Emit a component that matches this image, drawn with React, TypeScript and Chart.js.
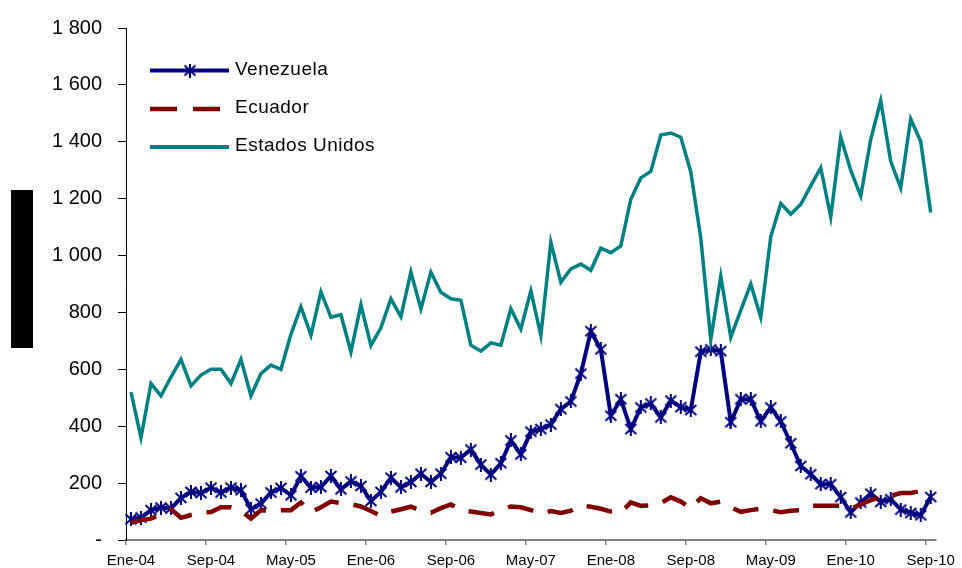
import React, { useEffect, useRef } from "react";
import { Chart, registerables } from "chart.js";

Chart.register(...registerables);

const monthNames = ["Ene", "Feb", "Mar", "Abr", "May", "Jun", "Jul", "Ago", "Sep", "Oct", "Nov", "Dic"];
const years = ["04", "05", "06", "07", "08", "09", "10"];
const lastMonthCount = 81;
const categories: string[] = [];
for (const y of years) for (const m of monthNames) categories.push(`${m}-${y}`);
categories.length = lastMonthCount;

const venezuela = [
  73, 79, 105, 114, 111, 148, 169, 165, 184, 167, 184, 175, 108, 128, 167, 183, 157, 224, 184, 186,
  225, 178, 206, 190, 137, 169, 219, 185, 204, 233, 204, 233, 291, 289, 318, 265, 230, 270, 350, 301,
  381, 390, 406, 460, 487, 585, 734, 670, 437, 495, 390, 466, 480, 431, 490, 467, 457, 662, 670, 664,
  414, 495, 495, 417, 466, 417, 340, 260, 231, 196, 196, 151, 97, 132, 163, 134, 143, 107, 95, 87, 151,
];

const ecuador = [
  60, 70, 75, 90, 108, 78, 88, 97, 98, 115, 115, 103, 75, 105, 102, 105, 105, 132, 98, 115,
  135, 130, 126, 118, 102, 85, 100, 108, 117, 103, 96, 112, 125, 105, 100, 95, 90, 105, 118, 115,
  105, 93, 102, 95, 103, 122, 117, 110, 100, 97, 132, 120, 122, 130, 150, 135, 112, 147, 129, 135,
  115, 99, 105, 110, 105, 98, 103, 105, 120, 120, 120, 120, 110, 125, 140, 151, 155, 165, 165, 172, 182,
];

const estadosUnidos = [
  520, 360, 550, 507, 573, 635, 542, 580, 600, 600, 550, 635, 507, 585, 615, 600, 723, 820, 720, 872,
  783, 792, 661, 827, 684, 746, 848, 785, 942, 812, 942, 871, 848, 843, 685, 664, 693, 685, 813, 742,
  876, 719, 1047, 906, 953, 970, 948, 1026, 1010, 1034, 1198, 1273, 1296, 1424, 1431, 1416, 1294, 1061, 705, 927,
  713, 807, 900, 783, 1066, 1183, 1145, 1180, 1245, 1309, 1136, 1416, 1300, 1209, 1408, 1544, 1331, 1238, 1480, 1401, 1151,
];

const seriesNames = ["Venezuela", "Ecuador", "Estados Unidos"];
const yTicks = [0, 200, 400, 600, 800, 1000, 1200, 1400, 1600, 1800];
const labelEvery = 8;

const NAVY = "#000080";
const MAROON = "#800000";
const TEAL = "#008080";
const FONT = "'Liberation Sans', Arial, sans-serif";

function makeStar(size: number): HTMLCanvasElement {
  const c = document.createElement("canvas");
  c.width = size;
  c.height = size;
  const g = c.getContext("2d")!;
  g.strokeStyle = NAVY;
  g.lineWidth = 2;
  g.beginPath();
  g.moveTo(1.5, 2);
  g.lineTo(size - 1.5, size - 2);
  g.moveTo(size - 1.5, 2);
  g.lineTo(1.5, size - 2);
  g.moveTo(size / 2, 0);
  g.lineTo(size / 2, size);
  g.stroke();
  return c;
}

function fmt(v: number): string {
  if (v === 0) return "-";
  if (v >= 1000) return `${Math.floor(v / 1000)} ${String(v % 1000).padStart(3, "0")}`;
  return String(v);
}

export default function App() {
  const ref = useRef<HTMLCanvasElement | null>(null);

  useEffect(() => {
    if (!ref.current) return;
    const star = makeStar(14);

    const decor = {
      id: "decor",
      afterDraw(chart: any) {
        const ctx = chart.ctx as CanvasRenderingContext2D;
        ctx.save();
        // redacted axis title block
        ctx.fillStyle = "#000";
        ctx.fillRect(11, 190, 22, 158);
        // legend
        const x0 = 150, x1 = 229, tx = 235;
        const rows = [70.5, 109, 147];
        ctx.strokeStyle = NAVY;
        ctx.lineWidth = 4;
        ctx.setLineDash([]);
        ctx.beginPath();
        ctx.moveTo(x0, rows[0]);
        ctx.lineTo(x1, rows[0]);
        ctx.stroke();
        ctx.drawImage(star, 190 - 7, rows[0] - 7);
        ctx.strokeStyle = MAROON;
        ctx.lineWidth = 4.5;
        ctx.setLineDash([27, 16]);
        ctx.beginPath();
        ctx.moveTo(x0, rows[1]);
        ctx.lineTo(x1 + 4, rows[1]);
        ctx.stroke();
        ctx.setLineDash([]);
        ctx.strokeStyle = TEAL;
        ctx.lineWidth = 4;
        ctx.beginPath();
        ctx.moveTo(x0, rows[2]);
        ctx.lineTo(x1, rows[2]);
        ctx.stroke();
        ctx.fillStyle = "#000";
        ctx.font = `19px ${FONT}`;
        (ctx as any).letterSpacing = "0.5px";
        ctx.textBaseline = "middle";
        ctx.textAlign = "left";
        seriesNames.forEach((n, i) => ctx.fillText(n, tx, rows[i] - 1));
        ctx.restore();
      },
    };

    const chart = new Chart(ref.current, {
      type: "line",
      data: {
        labels: categories,
        datasets: [
          {
            label: seriesNames[0],
            data: venezuela,
            borderColor: NAVY,
            backgroundColor: NAVY,
            borderWidth: 4,
            pointStyle: star as any,
            pointRadius: 7,
            tension: 0,
            order: 3,
          },
          {
            label: seriesNames[1],
            data: ecuador,
            borderColor: MAROON,
            backgroundColor: MAROON,
            borderWidth: 4.5,
            borderDash: [26, 15],
            pointRadius: 0,
            tension: 0,
            order: 2,
          },
          {
            label: seriesNames[2],
            data: estadosUnidos,
            borderColor: TEAL,
            backgroundColor: TEAL,
            borderWidth: 3.5,
            pointRadius: 0,
            tension: 0,
            order: 1,
          },
        ],
      },
      options: {
        responsive: false,
        animation: false,
        devicePixelRatio: 1,
        layout: { padding: { top: 25, right: 19, left: 0, bottom: 0 } },
        plugins: {
          legend: { display: false },
          tooltip: { enabled: false },
        },
        scales: {
          x: {
            type: "category",
            offset: true,
            grid: {
              offset: true,
              drawOnChartArea: false,
              drawTicks: true,
              tickLength: 5,
              lineWidth: 1.5,
              color: (c: any) => (typeof c.index === "number" && c.index % labelEvery === 0 ? "#808080" : "rgba(0,0,0,0)"),
            },
            border: { display: true, color: "#808080", width: 2 },
            ticks: {
              autoSkip: false,
              maxRotation: 0,
              minRotation: 0,
              padding: 7,
              color: "#000",
              font: { family: FONT, size: 15 },
              callback: (_v: any, i: number) => (i % labelEvery === 0 ? categories[i] : ""),
            },
            afterFit: (s: any) => {
              s.height = 28;
            },
          },
          y: {
            min: yTicks[0],
            max: yTicks[yTicks.length - 1],
            afterBuildTicks: (s: any) => {
              s.ticks = yTicks.map((v) => ({ value: v }));
            },
            grid: {
              drawOnChartArea: false,
              drawTicks: true,
              tickLength: 8,
              color: "#000",
            },
            border: { display: true, color: "#000", width: 1 },
            ticks: {
              padding: 16,
              color: "#000",
              font: { family: FONT, size: 20 },
              callback: (v: any) => fmt(Number(v)),
            },
            afterFit: (s: any) => {
              s.width = 126;
            },
          },
        },
      },
      plugins: [decor],
    });
    return () => chart.destroy();
  }, []);

  return (
    <div style={{ position: "absolute", left: 0, top: 0, width: 962, height: 568, background: "#fff" }}>
      <canvas ref={ref} width={962} height={568} style={{ display: "block" }} />
    </div>
  );
}
